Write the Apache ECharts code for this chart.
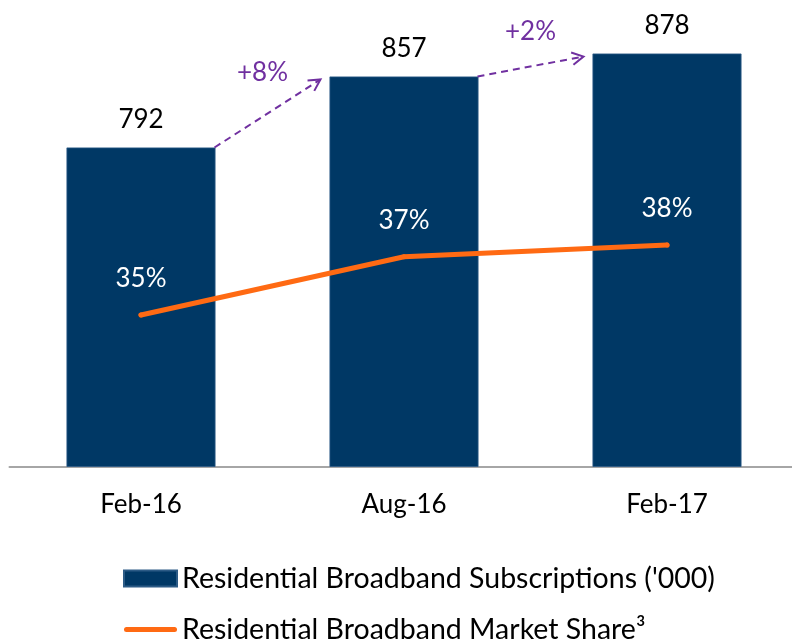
<!DOCTYPE html>
<html>
<head>
<meta charset="utf-8">
<script src="https://cdn.jsdelivr.net/npm/echarts@6/dist/echarts.min.js"></script>
<style>
  html, body { margin: 0; padding: 0; background: #fff; }
  #chart { width: 792px; height: 641px; }
</style>
</head>
<body>
<div id="chart"></div>
<script>
// chart data
const periods = ['Feb-16', 'Aug-16', 'Feb-17'];
const subscriptions = [792, 857, 878];       // '000
const marketShare = [35.2, 37.2, 37.6];      // %, labels rounded

const BAR_NAME = "Residential Broadband Subscriptions ('000)";
const LINE_NAME = 'Residential Broadband Market Share\u00B3';
const FONT = 'Lato, "Open Sans", sans-serif';
const NAVY = '#003865';
const ORANGE = '#FF6A13';
const PURPLE = '#7030A0';
const BAR_W = 149;

// growth arrows between consecutive bars
const growth = subscriptions.slice(1).map((v, i) => [i, subscriptions[i], v]);
// label nudges for the arrow texts (layout only)
const growthLabelOffset = [[-5, -41], [0, -35]];

function renderArrow(params, api) {
    const i = api.value(0);
    const a = api.coord([i, api.value(1)]);
    const b = api.coord([i + 1, api.value(2)]);
    const x1 = a[0] + BAR_W / 2 - 1, y1 = a[1];
    const x2 = b[0] - BAR_W / 2 - 9, y2 = b[1] + 3;
    const ang = Math.atan2(y2 - y1, x2 - x1);
    const hl = 13, ha = 0.5;
    const h1 = [x2 - hl * Math.cos(ang - ha), y2 - hl * Math.sin(ang - ha)];
    const h2 = [x2 - hl * Math.cos(ang + ha), y2 - hl * Math.sin(ang + ha)];
    const pct = Math.round((api.value(2) / api.value(1) - 1) * 100);
    const off = growthLabelOffset[params.dataIndex] || [0, -30];
    return {
        type: 'group',
        children: [
            {
                type: 'line',
                shape: { x1: x1, y1: y1, x2: x2, y2: y2 },
                style: { stroke: PURPLE, lineWidth: 2, lineDash: [7, 5] }
            },
            {
                type: 'polyline',
                shape: { points: [h1, [x2, y2], h2] },
                style: { stroke: PURPLE, lineWidth: 2, fill: null }
            },
            {
                type: 'text',
                style: {
                    text: '+' + pct + '%',
                    x: (x1 + x2) / 2 + off[0],
                    y: (y1 + y2) / 2 + off[1],
                    fill: PURPLE,
                    font: '26px ' + FONT,
                    align: 'center',
                    verticalAlign: 'middle'
                }
            }
        ]
    };
}

const chart = echarts.init(document.getElementById('chart'));

const option = {
    animation: false,
    backgroundColor: '#fff',
    textStyle: { fontFamily: FONT },
    grid: {
        left: 9.5, right: -6.5, top: 29.5, bottom: 174.5,
        containLabel: false,
        outerBoundsMode: 'none'
    },
    legend: {
        orient: 'vertical',
        left: 123,
        top: 564,
        height: 150,
        padding: 0,
        itemWidth: 53,
        itemHeight: 16,
        itemGap: 22,
        textStyle: { fontSize: 28.5, color: '#000', lineHeight: 28, fontFamily: FONT },
        data: [
            { name: BAR_NAME, icon: 'rect' },
            { name: LINE_NAME, icon: 'path://M2.5,0 H50.5 A2.5,2.5 0 0 1 50.5,5 H2.5 A2.5,2.5 0 0 1 2.5,0 Z' }
        ]
    },
    xAxis: {
        type: 'category',
        data: periods,
        axisLine: { lineStyle: { color: '#A6A6A6', width: 2 } },
        axisTick: { show: false },
        axisLabel: { fontSize: 26, color: '#000', margin: 25, fontFamily: FONT }
    },
    yAxis: [
        { type: 'value', min: 500, max: 900, show: false, splitLine: { show: false } },
        { type: 'value', min: 30, max: 45, show: false, splitLine: { show: false } }
    ],
    series: [
        {
            name: BAR_NAME,
            type: 'bar',
            data: subscriptions,
            barWidth: BAR_W,
            itemStyle: { color: NAVY, borderColor: '#2c5b86', borderWidth: 0.8 },
            label: {
                show: true,
                position: 'top',
                distance: 15,
                fontSize: 26,
                color: '#000',
                fontFamily: FONT
            }
        },
        {
            name: LINE_NAME,
            type: 'line',
            yAxisIndex: 1,
            data: marketShare,
            symbol: 'circle',
            symbolSize: 5,
            itemStyle: { color: ORANGE },
            lineStyle: { color: ORANGE, width: 5, cap: 'round' },
            z: 5,
            label: {
                show: true,
                position: 'top',
                distance: 21,
                fontSize: 26,
                color: '#fff',
                fontFamily: FONT,
                formatter: p => Math.round(p.value) + '%'
            }
        },
        {
            type: 'custom',
            coordinateSystem: 'cartesian2d',
            data: growth,
            renderItem: renderArrow,
            z: 10,
            silent: true
        }
    ]
};

chart.setOption(option);
</script>
</body>
</html>
